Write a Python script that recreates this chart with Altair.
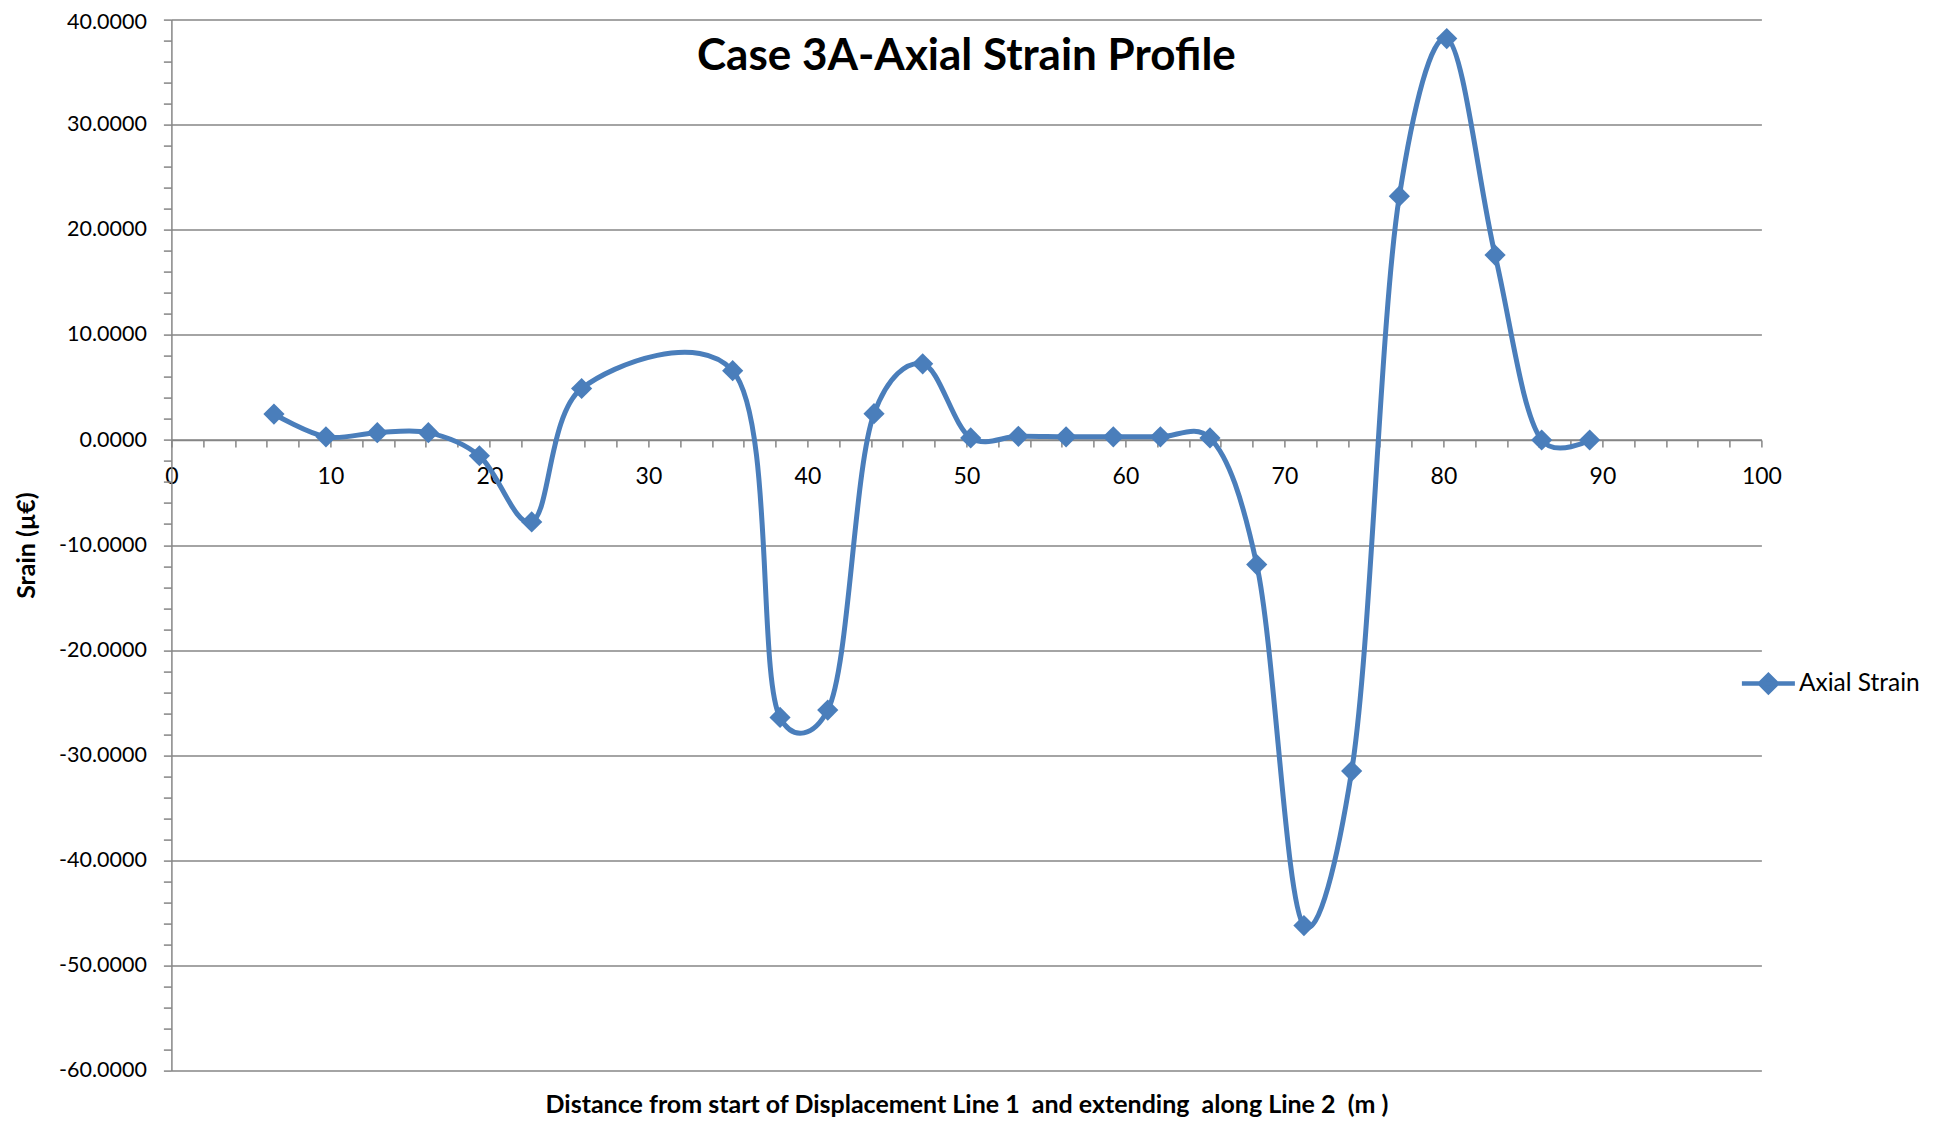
import altair as alt
import pandas as pd

# ---- data ----
distance = [6.45, 9.72, 12.95, 16.16, 19.37, 22.66, 25.8, 35.3, 38.28, 41.28,
            44.19, 47.25, 50.27, 53.27, 56.27, 59.24, 62.2, 65.32, 68.26, 71.23,
            74.23, 77.23, 80.21, 83.25, 86.18, 89.2]
strain = [2.47, 0.3, 0.7, 0.7, -1.5, -7.8, 4.9, 6.6, -26.4, -25.7,
          2.5, 7.25, 0.2, 0.35, 0.3, 0.3, 0.3, 0.2, -11.85, -46.2,
          -31.5, 23.2, 38.2, 17.6, 0.0, 0.0]
series_name = "Axial Strain"

x_ticks = list(range(0, 101, 2))
y_ticks = list(range(-60, 41, 2))

title_text = "Case 3A-Axial Strain Profile"
x_title = "Distance from start of Displacement Line 1 \u00a0and extending \u00a0along Line 2 \u00a0(m )"
y_title = "Srain (µ€)"

df = pd.DataFrame({"distance": distance, "strain": strain,
                   "series": [series_name] * len(distance)})

W, H = 1590, 1051
BLUE = "#4A7EBB"
GRID = "#868686"
FONT = "Lato"

x_enc = alt.X(
    "distance:Q",
    scale=alt.Scale(domain=[0, 100], nice=False, zero=False),
    axis=alt.Axis(
        values=x_ticks,
        labelExpr="datum.value % 10 === 0 ? '' + datum.value : ''",
        grid=False,
        offset=-H * 0.6,
        domainColor=GRID, domainWidth=1.5,
        tickColor=GRID, tickWidth=1.5, tickSize=7,
        labelFont=FONT, labelFontSize=23, labelColor="black",
        labelPadding=18, labelFlush=False, labelOverlap=False,
        title=x_title, titleFont=FONT, titleFontSize=25, titleFontWeight="bold",
        titleColor="black", titleY=665, titleBaseline="middle",
    ),
)

y_enc = alt.Y(
    "strain:Q",
    scale=alt.Scale(domain=[-60, 40], nice=False, zero=False),
    axis=alt.Axis(
        values=y_ticks,
        labelExpr="datum.value % 10 === 0 ? (datum.value < 0 ? '-' : '') + format(abs(datum.value), '.4f') : ''",
        labelOffset={"condition": {"test": "datum.value === 40", "value": 3}, "value": 0},
        grid=True, gridColor=GRID, gridWidth=1.5,
        gridOpacity={"condition": {"test": "datum.value % 10 === 0", "value": 1}, "value": 0},
        domainColor=GRID, domainWidth=1.5,
        tickColor=GRID, tickWidth=1.5, tickSize=8,
        labelFont=FONT, labelFontSize=21.5, labelColor="black",
        labelPadding=17, labelOverlap=False,
        title=y_title, titleFont=FONT, titleFontSize=25, titleFontWeight="bold",
        titleColor="black", titleX=-144.4, titleY=H / 2, titleBaseline="middle",
        titleAngle=-90,
    ),
)

legend_symbol = "M-1,0L1,0M-0.32,0L0,-0.32L0.32,0L0,0.32Z"

line = alt.Chart(df).mark_line(interpolate="catmull-rom", tension=0.25, strokeWidth=5, color=BLUE).encode(
    x=x_enc,
    y=y_enc,
    color=alt.Color(
        "series:N",
        scale=alt.Scale(range=[BLUE]),
        legend=alt.Legend(
            orient="none", legendX=1568, legendY=635, title=None,
            symbolType=legend_symbol, symbolSize=2809, symbolStrokeWidth=4.5,
            symbolFillColor=BLUE, symbolStrokeColor=BLUE, symbolOpacity=1,
            labelFont=FONT, labelFontSize=24.5, labelColor="black", labelOffset=1.5,
        ),
    ),
)

points = alt.Chart(df).mark_point(shape="diamond", filled=True, size=450, opacity=1, color=BLUE).encode(
    x=x_enc,
    y=y_enc,
)

chart = alt.layer(line, points).properties(
    width=W,
    height=H,
    autosize=alt.AutoSizeParams(type="none"),
    padding={"left": 163.4, "top": 11.6, "right": 178, "bottom": 46.4},
    title=alt.TitleParams(
        title_text, font=FONT, fontSize=44, fontWeight="bold", color="black",
        anchor="middle", frame="group", offset=-50, baseline="alphabetic", dy=52.5,
    ),
    background="white",
).configure_view(stroke=None)

chart.save("out.html", embed_options={"renderer": "svg", "actions": False})
